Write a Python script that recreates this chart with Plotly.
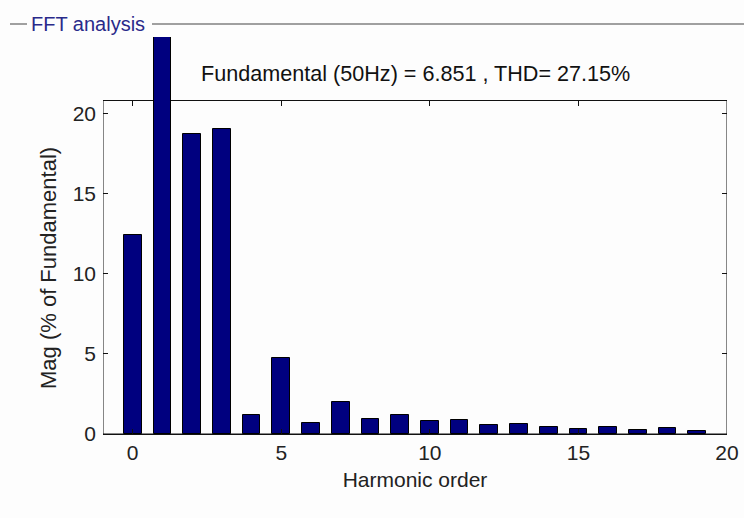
import plotly.graph_objects as go

harmonic_order = list(range(20))
mag_percent = [12.4, 100.0, 18.7, 19.0, 1.18, 4.72, 0.71, 2.0, 0.92, 1.18,
               0.79, 0.89, 0.58, 0.6, 0.46, 0.33, 0.46, 0.25, 0.35, 0.17]
x_ticks = [0, 5, 10, 15, 20]
y_ticks = [0, 5, 10, 15, 20]
title_text = "Fundamental (50Hz) = 6.851 , THD= 27.15%"
panel_title = "FFT analysis"
x_title = "Harmonic order"
y_title = "Mag (% of Fundamental)"

BOX_TOP = 20.8
FONT = "Liberation Sans, Arial, sans-serif"
FS = 21
TXT = "#222222"

H = 518
plot_top_px = 37
box_top_px = 100.5
bottom_px = 434
plot_h = bottom_px - plot_top_px
plot_w = 624
dom_box_top = (bottom_px - box_top_px) / plot_h
Y_TOP = BOX_TOP * plot_h / (bottom_px - box_top_px)

fig = go.Figure()
fig.add_trace(go.Bar(
    x=harmonic_order, y=mag_percent, width=0.6,
    marker=dict(color="#00007f", line=dict(color="#000000", width=1)),
    xaxis="x", yaxis="y", showlegend=False, hoverinfo="x+y"))
# empty trace that creates the framing subplot (top / right ticks)
fig.add_trace(go.Scatter(x=[None], y=[None], xaxis="x2", yaxis="y2",
                         showlegend=False, hoverinfo="skip"))

fig.update_layout(
    width=744, height=518,
    margin=dict(l=103, r=17, t=plot_top_px, b=H - bottom_px),
    paper_bgcolor="#fdfdfd", plot_bgcolor="rgba(0,0,0,0)",
    font=dict(family=FONT, size=FS, color=TXT),
    bargap=0,
    xaxis=dict(range=[-1, 20], tickvals=x_ticks, ticks="inside", ticklen=5,
               tickcolor="#111", showline=True, linecolor="#111", linewidth=1,
               showgrid=False, zeroline=False, anchor="y", domain=[0, 1],
               automargin=False,
               title=dict(text=x_title, standoff=9,
                          font=dict(size=FS, family=FONT, color=TXT)),
               tickfont=dict(size=FS, family=FONT, color=TXT)),
    yaxis=dict(range=[0, Y_TOP], domain=[0, 1], tickvals=y_ticks, ticks="inside",
               ticklen=5, tickcolor="#111", showline=False, showgrid=False,
               zeroline=False, anchor="x", ticklabelstandoff=6, automargin=False,
               tickfont=dict(size=FS, family=FONT, color=TXT)),
    xaxis2=dict(range=[-1, 20], domain=[0, 1], tickvals=x_ticks, ticks="inside",
                ticklen=5, tickcolor="#111", showticklabels=False,
                showline=False, showgrid=False, zeroline=False,
                anchor="y2", side="top", automargin=False),
    yaxis2=dict(range=[0, BOX_TOP], domain=[0, dom_box_top], tickvals=y_ticks,
                ticks="inside", ticklen=5, tickcolor="#111",
                showticklabels=False, showline=False, showgrid=False,
                zeroline=False, anchor="x2", side="right", automargin=False),
)

# axes box (drawn below the bars so the fundamental bar covers the top edge)
fig.add_shape(type="rect", xref="x", yref="y", x0=-1, x1=20, y0=0, y1=BOX_TOP,
              line=dict(color="#111", width=1), fillcolor="rgba(0,0,0,0)",
              layer="below")

# y-axis title, centred on the axes box
fig.add_annotation(text=y_title, xref="paper", yref="paper",
                   x=(48 - 103) / plot_w, y=(bottom_px - 268) / plot_h,
                   xanchor="center", yanchor="middle", textangle=-90,
                   showarrow=False, font=dict(size=22, family=FONT, color=TXT))

# title
fig.add_annotation(text=title_text, xref="paper", yref="paper", x=0.5, y=1.0,
                   yshift=-(73 - plot_top_px), xanchor="center", yanchor="middle",
                   showarrow=False, font=dict(size=21.6, family=FONT, color="#111111"))

# panel frame (uipanel style)
py = 1 + (plot_top_px - 24) / plot_h
fig.add_shape(type="line", xref="paper", yref="paper",
              x0=-93 / plot_w, x1=-76 / plot_w, y0=py, y1=py,
              line=dict(color="#a0a0a0", width=2))
fig.add_shape(type="line", xref="paper", yref="paper",
              x0=49 / plot_w, x1=641 / plot_w, y0=py, y1=py,
              line=dict(color="#a0a0a0", width=2))
fig.add_annotation(text=panel_title, xref="paper", yref="paper",
                   x=-74 / plot_w, y=py, xanchor="left", yanchor="middle",
                   showarrow=False,
                   font=dict(size=20, family=FONT, color="#2a2a8a"))

fig.write_html("out.html", config={"displayModeBar": False},
               post_script="document.body.style.margin='0px';")
